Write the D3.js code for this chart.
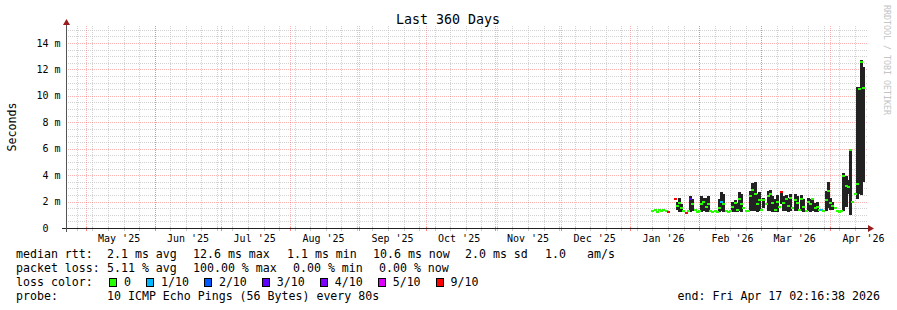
<!DOCTYPE html>
<html>
<head>
<meta charset="utf-8">
<script src="https://cdn.jsdelivr.net/npm/d3@7/dist/d3.min.js"></script>
<style>
  body { margin: 0; background: #fff; }
  svg text { font-family: 'DejaVu Sans Mono', monospace; white-space: pre; }
</style>
</head>
<body>
<div id="chart"></div>
<script>
// graph time range
const endTime = '2026-04-17T02:16:38Z'
const rangeDays = 360

// x axis labels (centered mid month)
const monthLabels = ["May '25", "Jun '25", "Jul '25", "Aug '25", "Sep '25", "Oct '25", "Nov '25", "Dec '25", "Jan '26", "Feb '26", "Mar '26", "Apr '26"]
const monthLabelDates = ['2025-05-16', '2025-06-16', '2025-07-16', '2025-08-16', '2025-09-16', '2025-10-16', '2025-11-16', '2025-12-16', '2026-01-16', '2026-02-16', '2026-03-16', '2026-04-16']

// y axis (milliseconds)
const yTicks = [0, 2, 4, 6, 8, 10, 12, 14]
const yTickLabels = ['0  ', '2 m', '4 m', '6 m', '8 m', '10 m', '12 m', '14 m']

// samples: day of 2026 (days after Jan 1), median rtt, smoke low / high (ms), lost pings of 10
const day = [10, 11, 12, 13, 14, 15, 16, 17, 18, 19, 20, 21, 22, 23, 24, 25, 26, 27, 28, 29,
  30, 31, 32, 33, 34, 35, 36, 37, 38, 39, 40, 41, 42, 43, 44, 45, 46, 47, 48, 49,
  50, 51, 52, 53, 54, 55, 56, 57, 58, 59, 60, 61, 62, 63, 64, 65, 66, 67, 68, 69,
  70, 71, 72, 73, 74, 75, 76, 77, 78, 79, 80, 81, 82, 83, 84, 85, 86, 87, 88, 89,
  90, 91, 92, 93, 94, 95, 96, 97, 98, 99, 100, 101, 102, 103, 104, 105]
const median = [1.25, 1.4, 1.2, 1.4, 1.25, 1.35, 1.3, 1.2, null, null, 2.2, 1.7, 1.9, 1.5, 1.3, 1.1, 1.3, 2.2, 1.8, 1.4,
  1.2, 1.3, 1.8, 2.0, 1.6, 1.8, 1.3, 1.2, 1.25, 1.2, 1.5, 2.0, 1.8, 1.3, 1.2, 1.3, 1.6, 1.9, 1.4, 2.2,
  1.8, 1.5, 1.25, 1.3, 2.4, 2.9, 2.6, 1.8, 2.1, 1.4, 2.1, 1.8, 2.4, 2.6, 1.9, 1.4, 2.0, 1.6, 2.7, 1.9,
  2.2, 1.7, 2.3, 1.5, 2.1, 1.9, 1.4, 2.2, 1.6, 1.3, 2.0, 1.8, 2.2, 1.5, 1.6, 1.4, 1.35, 1.3, 2.1, 2.8,
  1.9, 1.7, 1.5, 1.3, 1.2, 1.3, 3.9, 3.2, 3.1, 5.9, 2.0, 2.6, 3.3, 10.5, 12.6, 10.6]
const smokeLow = [null, null, null, null, null, null, null, null, null, null, null, 1.4, 1.2, 1.2, null, null, null, 1.2, 1.3, null,
  null, null, 1.2, 1.3, 1.2, 1.2, null, null, null, null, 1.2, 1.3, 1.2, null, null, null, 1.2, 1.2, 1.2, 1.3,
  1.2, null, null, null, 1.3, 1.3, 1.3, 1.2, 1.3, null, 1.5, null, 1.3, 1.3, 1.2, 1.2, 1.2, null, 1.8, 1.3,
  1.3, 1.2, 1.3, null, 1.3, 1.3, null, 1.3, 1.2, null, 1.3, 1.2, 1.3, 1.2, 1.2, null, null, null, 1.3, 1.5,
  1.4, 1.4, null, null, null, null, 1.3, 1.6, 2.6, 1.0, null, null, 2.2, 2.6, 2.5, 3.5]
const smokeHigh = [null, null, null, null, null, null, null, null, null, null, null, 2.0, 2.3, 1.8, null, null, null, 2.4, 2.2, null,
  null, null, 2.4, 2.3, 2.3, 2.4, null, null, null, null, 2.2, 2.7, 2.6, null, null, null, 2.0, 2.1, 1.9, 2.7,
  2.6, null, null, null, 2.8, 3.4, 3.5, 2.6, 2.7, null, 2.3, null, 2.8, 2.9, 2.4, 2.2, 2.5, null, 2.8, 2.4,
  2.5, 2.3, 2.6, null, 2.6, 2.4, null, 2.5, 2.2, null, 2.3, 2.2, 2.3, 1.9, 2.0, null, null, null, 2.8, 3.5,
  2.3, 2.0, null, null, null, null, 4.2, 3.9, 3.6, 6.0, null, null, 10.7, 10.7, 12.7, 12.2]
const loss = [0, 0, 0, 0, 0, 0, 0, 9, 0, 0, 9, 0, 0, 0, 0, 9, 0, 3, 0, 0,
  0, 0, 0, 0, 0, 0, 0, 0, 0, 0, 0, 1, 0, 0, 0, 0, 0, 0, 0, 0,
  0, 0, 0, 0, 0, 0, 0, 0, 0, 0, 0, 0, 0, 0, 0, 0, 0, 0, 9, 0,
  0, 0, 0, 0, 0, 0, 0, 0, 0, 0, 0, 0, 0, 0, 0, 0, 1, 0, 0, 0,
  0, 0, 0, 0, 0, 0, 0, 0, 0, 0, 0, 0, 0, 0, 0, 0]

// loss color legend
const lossSteps = [0, 1, 2, 3, 4, 5, 9]
const lossLabels = ['0', '1/10', '2/10', '3/10', '4/10', '5/10', '9/10']
const lossColors = ['#26ff00', '#00b8ff', '#0059ff', '#5e00ff', '#7e00ff', '#dd00ff', '#ff0000']

// legend text
const rttItems = ['median rtt:', '2.1 ms avg', '12.6 ms max', '1.1 ms min', '10.6 ms now', '2.0 ms sd', '1.0', 'am/s']
const lossItems = ['packet loss:', '5.11 % avg', '100.00 % max', '0.00 % min', '0.00 % now']
const probeItems = ['probe:', '10 ICMP Echo Pings (56 Bytes) every 80s']
const endLabel = 'end: Fri Apr 17 02:16:38 2026'
const title = 'Last 360 Days'

const W = 897
const H = 310
const plot = { left: 66, right: 866, top: 26, bottom: 228 }

const svg = d3.select('#chart').append('svg').attr('width', W).attr('height', H)

const end = new Date(endTime)
const start = d3.utcDay.offset(end, -rangeDays)
const jan1 = new Date('2026-01-01T00:00:00Z')

const x = d3.scaleUtc().domain([start, end]).range([plot.left, plot.right])
const y = d3.scaleLinear().domain([0, 15.287]).range([plot.bottom, plot.top])

const px = v => Math.round(v) + 0.5
const gridGray = 'rgba(190,190,190,0.7)'
const gridRed = 'rgba(255,0,0,0.3)'

// horizontal grid: minor every 0.5 m, major every 2 m
const gGrid = svg.append('g').attr('shape-rendering', 'crispEdges')
const minorY = d3.range(0.5, 15.3, 0.5).filter(v => v % 2 !== 0)
gGrid.selectAll('.hminor').data(minorY).enter().append('line')
  .attr('x1', plot.left).attr('x2', plot.right + 2)
  .attr('y1', d => px(y(d))).attr('y2', d => px(y(d)))
  .attr('stroke', gridGray).attr('stroke-dasharray', '1,1')

// vertical grid: weeks (sundays) and months
const weeks = d3.utcSunday.range(start, end)
const months = d3.utcMonth.range(start, end)
gGrid.selectAll('.vminor').data(weeks).enter().append('line')
  .attr('x1', d => px(x(d))).attr('x2', d => px(x(d)))
  .attr('y1', plot.top).attr('y2', plot.bottom + 3)
  .attr('stroke', gridGray).attr('stroke-dasharray', '1,1')

gGrid.selectAll('.hmajor').data(yTicks.slice(1)).enter().append('line')
  .attr('x1', plot.left).attr('x2', plot.right + 2)
  .attr('y1', d => px(y(d))).attr('y2', d => px(y(d)))
  .attr('stroke', gridRed).attr('stroke-dasharray', '1,1')

gGrid.selectAll('.vmajor').data(months).enter().append('line')
  .attr('x1', d => px(x(d))).attr('x2', d => px(x(d)))
  .attr('y1', plot.top).attr('y2', plot.bottom + 3)
  .attr('stroke', gridRed).attr('stroke-dasharray', '1,1')

// samples as rows
const rows = day.map((d, i) => ({
  t: d3.utcDay.offset(jan1, d),
  med: median[i],
  lo: smokeLow[i],
  hi: smokeHigh[i],
  loss: loss[i],
}))

const colorFor = l => {
  let c = lossColors[0]
  lossSteps.forEach((s, i) => { if (l >= s) c = lossColors[i] })
  return c
}

// smoke
const dayW = x(d3.utcDay.offset(jan1, 1)) - x(jan1)
svg.append('g').attr('shape-rendering', 'crispEdges')
  .selectAll('rect').data(rows.filter(r => r.lo != null && r.hi != null)).enter().append('rect')
  .attr('x', d => Math.round(x(d.t) - dayW / 2))
  .attr('width', Math.ceil(dayW))
  .attr('y', d => Math.round(y(d.hi)))
  .attr('height', d => Math.max(1, Math.round(y(d.lo)) - Math.round(y(d.hi))))
  .attr('fill', '#222')

// median: short band per sample (like smokeping's stacked median area)
svg.append('g').attr('shape-rendering', 'crispEdges')
  .selectAll('rect').data(rows.filter(r => r.med != null)).enter().append('rect')
  .attr('x', d => Math.round(x(d.t) - dayW / 2))
  .attr('width', Math.ceil(dayW))
  .attr('y', d => Math.round(y(d.med)) - 1)
  .attr('height', 2)
  .attr('fill', d => colorFor(d.loss))

// axis ticks on x axis
const gAxis = svg.append('g').attr('shape-rendering', 'crispEdges')
gAxis.selectAll('.wt').data(weeks).enter().append('line')
  .attr('x1', d => px(x(d))).attr('x2', d => px(x(d)))
  .attr('y1', plot.bottom - 1).attr('y2', plot.bottom + 3)
  .attr('stroke', '#c8c8c8')
gAxis.selectAll('.mt').data(months).enter().append('line')
  .attr('x1', d => px(x(d))).attr('x2', d => px(x(d)))
  .attr('y1', plot.bottom - 1).attr('y2', plot.bottom + 3)
  .attr('stroke', '#ff8080')

// axes
gAxis.append('line')
  .attr('x1', plot.left - 4).attr('x2', plot.right + 2)
  .attr('y1', plot.bottom + 0.5).attr('y2', plot.bottom + 0.5)
  .attr('stroke', '#222')
gAxis.append('line')
  .attr('x1', plot.left + 0.5).attr('x2', plot.left + 0.5)
  .attr('y1', plot.bottom + 4).attr('y2', plot.top - 2)
  .attr('stroke', '#555')

// arrows
svg.append('path')
  .attr('d', `M${plot.right + 2},${plot.bottom - 3} L${plot.right + 8},${plot.bottom + 0.5} L${plot.right + 2},${plot.bottom + 4} Z`)
  .attr('fill', '#9a1c1c')
svg.append('path')
  .attr('d', `M${plot.left - 3},${plot.top - 1} L${plot.left + 0.5},${plot.top - 7} L${plot.left + 4},${plot.top - 1} Z`)
  .attr('fill', '#9a1c1c')

// x labels
svg.append('g').selectAll('text').data(monthLabels).enter().append('text')
  .attr('x', (d, i) => x(new Date(monthLabelDates[i] + 'T00:00:00Z')))
  .attr('y', 241.5)
  .attr('text-anchor', 'middle')
  .attr('font-size', '10px')
  .attr('fill', '#000')
  .text(d => d)

// y labels
svg.append('g').selectAll('text').data(yTicks).enter().append('text')
  .attr('x', 60.5)
  .attr('y', d => y(d) + 3.5)
  .attr('text-anchor', 'end')
  .attr('font-size', '10px')
  .attr('fill', '#000')
  .text((d, i) => yTickLabels[i])

// y title
svg.append('text')
  .attr('transform', 'translate(15.5,127) rotate(-90)')
  .attr('text-anchor', 'middle')
  .attr('font-size', '11.6px')
  .text('Seconds')

// title
svg.append('text')
  .attr('x', 448).attr('y', 23.5)
  .attr('text-anchor', 'middle')
  .attr('font-size', '13.3px')
  .text(title)

// watermark
svg.append('text')
  .attr('transform', 'translate(884,5) rotate(90)')
  .attr('font-size', '8.3px')
  .attr('fill', '#c4c4c4')
  .text('RRDTOOL / TOBI OETIKER')

// legend
const fs = '11.6px'
const rttX = [16, 107, 193, 287, 373, 465, 545, 587]
const lossX = [16, 107, 193, 293, 379]
const probeX = [16, 107]
const legendLine = (items, xs, yy) => {
  svg.append('g').selectAll('text').data(items).enter().append('text')
    .attr('x', (d, i) => xs[i]).attr('y', yy)
    .attr('font-size', fs)
    .text(d => d)
}
legendLine(rttItems, rttX, 258.3)
legendLine(lossItems, lossX, 272.3)
legendLine(probeItems, probeX, 300.3)

svg.append('text').attr('x', 16).attr('y', 286.3).attr('font-size', fs).text('loss color:')
let lx = 109
const gLoss = svg.append('g')
lossLabels.forEach((lab, i) => {
  gLoss.append('rect')
    .attr('x', lx + 0.5).attr('y', 278.5).attr('width', 7).attr('height', 8)
    .attr('fill', lossColors[i]).attr('stroke', '#000').attr('shape-rendering', 'crispEdges')
  const t = gLoss.append('text').attr('x', lx + 15).attr('y', 286.3).attr('font-size', fs).text(lab)
  lx = lx + 15 + t.node().getComputedTextLength() + 15
})

svg.append('text')
  .attr('x', 880).attr('y', 300.3)
  .attr('text-anchor', 'end')
  .attr('font-size', fs)
  .text(endLabel)
</script>
</body>
</html>
